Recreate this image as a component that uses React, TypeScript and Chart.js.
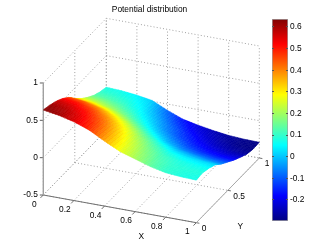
import React, { useEffect, useRef } from "react";
import { Chart, registerables } from "chart.js";

Chart.register(...registerables);

const titleText = "Potential distribution";
const xAxisTicks = [0, 0.2, 0.4, 0.6, 0.8, 1];
const yAxisTicks = [0, 0.5, 1];
const zAxisTicks = [-0.5, 0, 0.5, 1];
const colorbarTicks = [-0.2, -0.1, 0, 0.1, 0.2, 0.3, 0.4, 0.5, 0.6];

const gridX = [0, 0.1, 0.2, 0.3, 0.4, 0.5, 0.6, 0.7, 0.8, 0.9, 1];
const gridY = [0, 0.1, 0.2, 0.3, 0.4, 0.5, 0.6, 0.7, 0.8, 0.9, 1];
const zAtY00 = [0.638, 0.605, 0.555, 0.48, 0.37, 0.27, 0.205, 0.14, 0.095, 0.078, 0.07];
const zAtY01 = [0.615, 0.59, 0.54, 0.46, 0.36, 0.265, 0.19, 0.13, 0.095, 0.085, 0.082];
const zAtY02 = [0.58, 0.555, 0.505, 0.43, 0.335, 0.24, 0.165, 0.11, 0.08, 0.065, 0.055];
const zAtY03 = [0.53, 0.505, 0.455, 0.38, 0.29, 0.2, 0.125, 0.07, 0.04, 0.025, 0.015];
const zAtY04 = [0.46, 0.435, 0.385, 0.31, 0.225, 0.14, 0.07, 0.01, -0.02, -0.045, -0.06];
const zAtY05 = [0.36, 0.335, 0.29, 0.225, 0.15, 0.07, -0.005, -0.06, -0.09, -0.11, -0.12];
const zAtY06 = [0.27, 0.245, 0.205, 0.15, 0.08, 0.005, -0.06, -0.115, -0.15, -0.17, -0.18];
const zAtY07 = [0.2, 0.18, 0.145, 0.095, 0.03, -0.045, -0.11, -0.16, -0.195, -0.22, -0.23];
const zAtY08 = [0.14, 0.125, 0.1, 0.055, -0.01, -0.08, -0.145, -0.195, -0.235, -0.26, -0.275];
const zAtY09 = [0.1, 0.09, 0.07, 0.03, -0.05, -0.125, -0.185, -0.225, -0.26, -0.285, -0.295];
const zAtY10 = [0.076, 0.066, 0.045, 0.01, -0.085, -0.165, -0.21, -0.245, -0.272, -0.285, -0.29];
const zGrid = [zAtY00, zAtY01, zAtY02, zAtY03, zAtY04, zAtY05, zAtY06, zAtY07, zAtY08, zAtY09, zAtY10];

const colorMin = -0.298;
const colorMax = 0.637;
const jetStops: [number, number[]][] = [
  [0, [0, 0, 128]],
  [0.125, [0, 0, 255]],
  [0.375, [0, 255, 255]],
  [0.625, [255, 255, 0]],
  [0.875, [255, 0, 0]],
  [1, [128, 0, 0]],
];

const FONT = "8.4px 'Liberation Sans', Arial, sans-serif";
const W = 332;
const H = 251;
const SHADE_STEPS = 5;

function jet(z: number) {
  const t = Math.min(1, Math.max(0, (z - colorMin) / (colorMax - colorMin)));
  for (let i = 1; i < jetStops.length; i++) {
    const [a, ca] = jetStops[i - 1];
    const [b, cb] = jetStops[i];
    if (t <= b) {
      const f = (t - a) / (b - a);
      return `rgb(${ca.map((v, k) => Math.round(v + (cb[k] - v) * f)).join(",")})`;
    }
  }
  return "rgb(128,0,0)";
}

// 3-D view: the orthographic projection of the box onto the page plane
function project(x: number, y: number, z: number) {
  return {
    x: 43.3 + 153 * x + 63 * y,
    y: 195 + 27.7 * x - 64.7 * y - 74.67 * (z + 0.5),
  };
}

function bilinear(i: number, j: number, u: number, v: number) {
  const a = zGrid[j][i];
  const b = zGrid[j][i + 1];
  const c = zGrid[j + 1][i];
  const d = zGrid[j + 1][i + 1];
  return (a * (1 - u) + b * u) * (1 - v) + (c * (1 - u) + d * u) * v;
}

function surfaceDatasets() {
  const out: any[] = [];
  // nearest cells first: lower dataset index is painted on top
  for (let j = 0; j < gridY.length - 1; j++) {
    for (let i = gridX.length - 2; i >= 0; i--) {
      const dx = gridX[i + 1] - gridX[i];
      const dy = gridY[j + 1] - gridY[j];
      for (let s = 0; s < SHADE_STEPS; s++) {
        for (let r = SHADE_STEPS - 1; r >= 0; r--) {
          const u0 = r / SHADE_STEPS;
          const u1 = (r + 1) / SHADE_STEPS;
          const v0 = s / SHADE_STEPS;
          const v1 = (s + 1) / SHADE_STEPS;
          const pt = (u: number, v: number) =>
            project(gridX[i] + dx * u, gridY[j] + dy * v, bilinear(i, j, u, v));
          const color = jet(bilinear(i, j, (u0 + u1) / 2, (v0 + v1) / 2));
          out.push({
            data: [pt(u0, v0), pt(u1, v0), pt(u1, v1), pt(u0, v1), pt(u0, v0)],
            showLine: true,
            fill: "shape",
            backgroundColor: color,
            borderColor: color,
            borderWidth: 0.6,
            pointRadius: 0,
            tension: 0,
          });
        }
      }
    }
  }
  return out;
}

function lineDs(data: { x: number; y: number }[], color: string, width: number, dash: number[] = []) {
  return {
    data,
    showLine: true,
    fill: false,
    borderColor: color,
    borderWidth: width,
    borderDash: dash,
    pointRadius: 0,
    tension: 0,
  };
}

function boxDatasets() {
  const out: any[] = [];
  const gridColor = "#a0a0a0";
  const dash = [1, 2.2];
  const zLow = zAxisTicks[0];
  const zHigh = zAxisTicks[zAxisTicks.length - 1];
  // solid axes
  out.push(lineDs([project(0, 0, zLow), project(0, 0, zHigh)], "#a0a0a0", 1.4));
  out.push(lineDs([project(0, 0, zLow), project(1, 0, zLow)], "#707070", 1));
  out.push(lineDs([project(1, 0, zLow), project(1, 1, zLow)], "#a8a8a8", 1));
  // tick marks
  for (const z of zAxisTicks) {
    const p = project(0, 0, z);
    out.push(lineDs([p, { x: p.x - 3.5, y: p.y }], "#606060", 1));
  }
  for (const x of xAxisTicks) {
    out.push(lineDs([project(x, 0, zLow), project(x, -0.045, zLow)], "#707070", 1));
  }
  for (const y of yAxisTicks) {
    out.push(lineDs([project(1, y, zLow), project(1.02, y, zLow)], "#707070", 1));
  }
  // dotted grid on floor and back walls
  for (const x of xAxisTicks) {
    out.push(lineDs([project(x, 0, zLow), project(x, 1, zLow)], gridColor, 1, dash));
    out.push(lineDs([project(x, 1, zLow), project(x, 1, zHigh)], gridColor, 1, dash));
  }
  for (const y of yAxisTicks) {
    out.push(lineDs([project(0, y, zLow), project(1, y, zLow)], gridColor, 1, dash));
    out.push(lineDs([project(0, y, zLow), project(0, y, zHigh)], gridColor, 1, dash));
  }
  for (const z of zAxisTicks) {
    out.push(lineDs([project(0, 0, z), project(0, 1, z)], gridColor, 1, dash));
    out.push(lineDs([project(0, 1, z), project(1, 1, z)], gridColor, 1, dash));
  }
  return out;
}

const labelsPlugin = {
  id: "boxLabels",
  afterDraw(chart: any) {
    const { ctx, scales } = chart;
    const put = (text: string, p: { x: number; y: number }, dx: number, dy: number, align: CanvasTextAlign) => {
      ctx.textAlign = align;
      ctx.fillText(text, scales.x.getPixelForValue(p.x) + dx, scales.y.getPixelForValue(p.y) + dy);
    };
    ctx.save();
    ctx.font = FONT;
    ctx.fillStyle = "#000";
    ctx.textBaseline = "middle";
    const zLow = zAxisTicks[0];
    for (const z of zAxisTicks) put(String(z), project(0, 0, z), -5.5, 0, "right");
    for (const x of xAxisTicks) put(String(x), project(x, 0, zLow), -9, 9.4, "center");
    for (const y of yAxisTicks) put(String(y), project(1, y, zLow), 5.5, 6, "left");
    put("X", project(0.64, 0, zLow), 0, 23.5, "center");
    put("Y", project(1, 0.5, zLow), 12.5, 36.5, "center");
    ctx.textAlign = "center";
    ctx.fillText(titleText, 149.5, 10);
    ctx.restore();
  },
};

export default function App() {
  const mainRef = useRef<HTMLCanvasElement>(null);
  const barRef = useRef<HTMLCanvasElement>(null);

  useEffect(() => {
    const main = new Chart(mainRef.current!, {
      type: "scatter",
      data: { datasets: [...surfaceDatasets(), ...boxDatasets()] },
      plugins: [labelsPlugin],
      options: {
        animation: false,
        responsive: false,
        events: [],
        layout: { padding: 0 },
        plugins: { legend: { display: false }, tooltip: { enabled: false } },
        scales: {
          x: { type: "linear", min: 0, max: W, display: false },
          y: { type: "linear", min: 0, max: H, reverse: true, display: false },
        },
      },
    } as any);

    const bar = new Chart(barRef.current!, {
      type: "bar",
      data: {
        labels: ["potential"],
        datasets: [
          {
            data: [[colorMin, colorMax]],
            barPercentage: 1,
            categoryPercentage: 1,
            borderWidth: 1,
            borderColor: "#a0a0a0",
            borderSkipped: false,
            backgroundColor: (c: any) => {
              const area = c.chart.chartArea;
              if (!area) return "#000";
              const g = c.chart.ctx.createLinearGradient(0, area.bottom, 0, area.top);
              for (const [t, rgb] of jetStops) g.addColorStop(t, `rgb(${rgb.join(",")})`);
              return g;
            },
          },
        ],
      },
      options: {
        animation: false,
        responsive: false,
        events: [],
        layout: { padding: { left: 272, top: 19, bottom: 30, right: 0 } },
        plugins: { legend: { display: false }, tooltip: { enabled: false } },
        scales: {
          x: { display: false },
          y: {
            position: "right",
            min: colorMin,
            max: colorMax,
            afterFit: (a: any) => {
              a.width = 44;
            },
            afterBuildTicks: (a: any) => {
              a.ticks = colorbarTicks.map((value) => ({ value }));
            },
            grid: { z: 1, drawTicks: false, color: "#555", lineWidth: 1 },
            border: { display: false, dash: [2, 12, 2] },
            ticks: {
              padding: 2,
              color: "#000",
              font: { family: "'Liberation Sans', Arial, sans-serif", size: 8.4 },
              callback: (v: any) => String(Math.round(Number(v) * 10) / 10),
            },
          },
        },
      },
    } as any);

    return () => {
      main.destroy();
      bar.destroy();
    };
  }, []);

  const style: React.CSSProperties = { position: "fixed", left: 0, top: 0, width: W, height: H, filter: "blur(0.4px)" };
  return (
    <div style={{ position: "fixed", left: 0, top: 0, width: W, height: H, background: "#fff" }}>
      <canvas ref={mainRef} width={W} height={H} style={style} />
      <canvas ref={barRef} width={W} height={H} style={style} />
    </div>
  );
}
